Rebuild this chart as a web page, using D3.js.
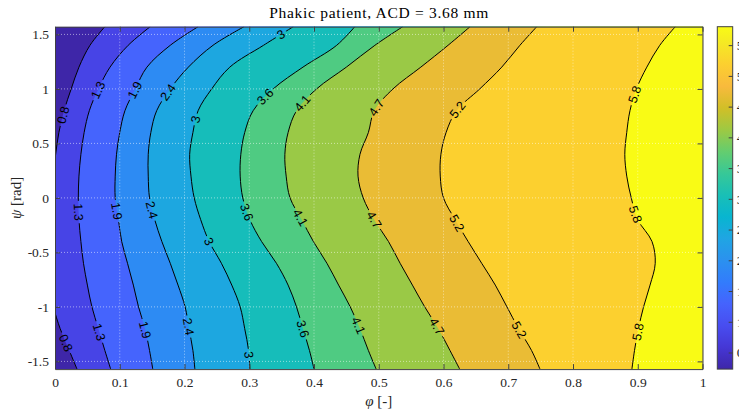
<!DOCTYPE html>
<html>
<head>
<meta charset="utf-8">
<script src="https://cdn.jsdelivr.net/npm/d3@7"></script>
<style>
  body { margin: 0; background: #fff; }
  svg { display: block; }
  .axis text { font-family: "Liberation Serif", serif; font-size: 13.5px; fill: #262626; }
  .axis path, .axis line { stroke: #404040; }
</style>
</head>
<body>
<svg id="chart" width="739" height="412"></svg>
<script>
// tick values
var phiTicks = [0, 0.1, 0.2, 0.3, 0.4, 0.5, 0.6, 0.7, 0.8, 0.9, 1];
var psiTicks = [-1.5, -1, -0.5, 0, 0.5, 1, 1.5];
var cbarTicks = [0.5, 1, 1.5, 2, 2.5, 3, 3.5, 4, 4.5, 5, 5.5];
var cbarRange = [0.23, 5.8];

// contour levels
var levels = [0.8, 1.3, 1.9, 2.4, 3, 3.6, 4.1, 4.7, 5.2, 5.8];

var psiRows = [1.5708, 1.4, 1.2, 1.0, 0.8, 0.6, 0.4, 0.2, 0, -0.2, -0.4, -0.6, -0.8, -1.0, -1.2, -1.4, -1.5708];

// phi of each contour line on those rows
var phi08 = [0.077, 0.054, 0.037, 0.025, 0.014, 0.006, 0.001, -0.003, -0.005, -0.007, -0.008, -0.007, -0.005, -0.002, 0.008, 0.022, 0.034];
var phi13 = [0.147, 0.113, 0.085, 0.067, 0.053, 0.045, 0.040, 0.037, 0.036, 0.037, 0.040, 0.044, 0.050, 0.057, 0.067, 0.077, 0.086];
var phi19 = [0.221, 0.178, 0.142, 0.124, 0.108, 0.100, 0.095, 0.093, 0.093, 0.098, 0.103, 0.112, 0.121, 0.129, 0.139, 0.146, 0.151];
var phi24 = [0.292, 0.244, 0.206, 0.178, 0.157, 0.148, 0.144, 0.144, 0.146, 0.154, 0.165, 0.178, 0.190, 0.201, 0.207, 0.213, 0.216];
var phi30 = [0.368, 0.322, 0.270, 0.242, 0.221, 0.213, 0.208, 0.210, 0.215, 0.225, 0.238, 0.257, 0.273, 0.286, 0.293, 0.299, 0.301];
var phi36 = [0.463, 0.435, 0.383, 0.337, 0.306, 0.293, 0.287, 0.286, 0.290, 0.301, 0.319, 0.342, 0.360, 0.373, 0.383, 0.393, 0.400];
var phi41 = [0.537, 0.494, 0.450, 0.404, 0.373, 0.360, 0.355, 0.357, 0.363, 0.381, 0.399, 0.420, 0.438, 0.456, 0.471, 0.484, 0.496];
var phi47 = [0.641, 0.607, 0.565, 0.522, 0.493, 0.484, 0.471, 0.468, 0.476, 0.493, 0.515, 0.533, 0.552, 0.571, 0.592, 0.610, 0.625];
var phi52 = [0.744, 0.718, 0.690, 0.656, 0.620, 0.604, 0.596, 0.595, 0.600, 0.618, 0.638, 0.659, 0.680, 0.698, 0.716, 0.736, 0.749];
var phi58 = [0.958, 0.934, 0.914, 0.898, 0.888, 0.883, 0.880, 0.883, 0.890, 0.900, 0.922, 0.927, 0.919, 0.909, 0.901, 0.895, 0.891];
var contourPhi = [phi08, phi13, phi19, phi24, phi30, phi36, phi41, phi47, phi52, phi58];

// contour labels: [level, psi]
var labelSpots = [
  [0.8, 0.76], [0.8, -1.33],
  [1.3, 0.99], [1.3, -0.13], [1.3, -1.23],
  [1.9, 0.99], [1.9, -0.12], [1.9, -1.21],
  [2.4, 0.97], [2.4, -0.11], [2.4, -1.18],
  [3, 1.50], [3, 0.72], [3, -0.40], [3, -1.44],
  [3.6, 0.93], [3.6, -0.13], [3.6, -1.20],
  [4.1, 0.87], [4.1, -0.18], [4.1, -1.17],
  [4.7, 0.83], [4.7, -0.20], [4.7, -1.18],
  [5.2, 0.81], [5.2, -0.23], [5.2, -1.21],
  [5.8, 0.95], [5.8, -0.15], [5.8, -1.23]
];

// parula colormap (every 4th entry of the 64 colour table)
var parula = [
  [0.2422, 0.1504, 0.6603], [0.2706, 0.2147, 0.8364], [0.2813, 0.3006, 0.9414], [0.2699, 0.3892, 0.9906],
  [0.1963, 0.4847, 0.9892], [0.1687, 0.5703, 0.9359], [0.1248, 0.6459, 0.8883], [0.0297, 0.7082, 0.8163],
  [0.0964, 0.7500, 0.7120], [0.2161, 0.7843, 0.5923], [0.3909, 0.8029, 0.4354], [0.6174, 0.7876, 0.2612],
  [0.8203, 0.7498, 0.1535], [0.9728, 0.7298, 0.2394], [0.9892, 0.8136, 0.1885], [0.9597, 0.9135, 0.1423],
  [0.9769, 0.9839, 0.0805]
];
var parulaPos = [0, 4, 8, 12, 16, 20, 24, 28, 32, 36, 40, 44, 48, 52, 56, 60, 63].map(function (i) { return i / 63; });
var parulaHex = parula.map(function (c) { return d3.rgb(c[0] * 255, c[1] * 255, c[2] * 255).formatHex(); });
var cmap = d3.scaleLinear().domain(parulaPos).range(parulaHex).interpolate(d3.interpolateRgb);

var svg = d3.select("#chart"),
    margin = { top: 26.7, right: 36.5, bottom: 42.9, left: 55 },
    width = +svg.attr("width") - margin.left - margin.right,
    height = +svg.attr("height") - margin.top - margin.bottom;

var xScale = d3.scaleLinear().domain([0, 1]).range([0, width]),
    yScale = d3.scaleLinear().domain([-Math.PI / 2, Math.PI / 2]).range([height, 0]),
    cScale = d3.scaleLinear().domain(cbarRange).range([0, 1]);

var defs = svg.append("defs");
defs.append("clipPath").attr("id", "plotClip")
    .append("rect").attr("width", width).attr("height", height);

var g = svg.append("g")
    .attr("transform", "translate(" + margin.left + "," + margin.top + ")");

// filled bands
var plot = g.append("g").attr("clip-path", "url(#plotClip)");
var bandLow = [cbarRange[0]].concat(levels);

plot.append("rect")
    .attr("width", width).attr("height", height)
    .attr("fill", cmap(cScale(bandLow[0])));

var lineGen = d3.line()
    .x(function (d) { return xScale(d[0]); })
    .y(function (d) { return yScale(d[1]); })
    .curve(d3.curveCatmullRom.alpha(0.5));

var contours = levels.map(function (lv, i) {
  return { level: lv, pts: contourPhi[i].map(function (p, j) { return [p, psiRows[j]]; }) };
});

plot.selectAll(".band")
    .data(contours)
    .enter().append("path")
    .attr("class", "band")
    .attr("fill", function (d, i) { return cmap(cScale(bandLow[i + 1])); })
    .attr("d", function (d) {
      return lineGen(d.pts) +
        "L" + xScale(1.1) + "," + yScale(-1.7) +
        "L" + xScale(1.1) + "," + yScale(1.7) + "Z";
    });

// contour lines (masked where labels sit)
var mask = defs.append("mask").attr("id", "labelMask")
    .attr("maskUnits", "userSpaceOnUse")
    .attr("x", -10).attr("y", -10).attr("width", width + 20).attr("height", height + 20);
mask.append("rect").attr("x", -10).attr("y", -10)
    .attr("width", width + 20).attr("height", height + 20).attr("fill", "#fff");

var lines = plot.append("g").attr("mask", "url(#labelMask)")
    .selectAll(".cline")
    .data(contours)
    .enter().append("path")
    .attr("class", "cline")
    .attr("fill", "none")
    .attr("stroke", "#000")
    .attr("stroke-width", 1)
    .attr("d", function (d) { return lineGen(d.pts); });

// grid
var grid = plot.append("g")
    .attr("stroke", "#fff").attr("stroke-opacity", 0.65)
    .attr("stroke-width", 0.8).attr("stroke-dasharray", "1,2");
grid.selectAll(".gx").data(phiTicks.slice(1, -1)).enter().append("line")
    .attr("x1", function (d) { return xScale(d); }).attr("x2", function (d) { return xScale(d); })
    .attr("y1", 0).attr("y2", height);
grid.selectAll(".gy").data(psiTicks).enter().append("line")
    .attr("y1", function (d) { return yScale(d); }).attr("y2", function (d) { return yScale(d); })
    .attr("x1", 0).attr("x2", width);

// contour labels, placed on the drawn lines
var lineNodes = {};
lines.each(function (d) { lineNodes[d.level] = this; });

function lengthAtY(node, ty) {
  var lo = 0, hi = node.getTotalLength();
  for (var k = 0; k < 40; k++) {
    var mid = (lo + hi) / 2;
    if (node.getPointAtLength(mid).y < ty) lo = mid; else hi = mid;
  }
  return lo;
}

var labelG = plot.append("g");
labelSpots.forEach(function (s) {
  var node = lineNodes[s[0]];
  var L = lengthAtY(node, yScale(s[1]));
  var p = node.getPointAtLength(L),
      p1 = node.getPointAtLength(Math.max(0, L - 5)),
      p2 = node.getPointAtLength(L + 5);
  var ang = Math.atan2(p2.y - p1.y, p2.x - p1.x) * 180 / Math.PI;
  if (ang > 90) ang -= 180;
  if (ang < -90) ang += 180;
  var t = labelG.append("text")
      .attr("transform", "translate(" + p.x + "," + p.y + ") rotate(" + ang + ")")
      .attr("text-anchor", "middle")
      .attr("dy", "0.36em")
      .attr("font-family", "Liberation Sans, Arial, sans-serif")
      .attr("font-size", "12.5px")
      .attr("fill", "#000")
      .text(String(s[0]));
  var w = t.node().getComputedTextLength() + 5;
  mask.append("rect")
      .attr("transform", "translate(" + p.x + "," + p.y + ") rotate(" + ang + ")")
      .attr("x", -w / 2).attr("y", -5.5).attr("width", w).attr("height", 11)
      .attr("fill", "#000");
});

// axes (ticks point inward, box on)
var fmt = function (d) { return String(d); };
g.append("g").attr("class", "axis")
    .attr("transform", "translate(0," + height + ")")
    .call(d3.axisBottom(xScale).tickValues(phiTicks).tickFormat(fmt).tickSize(-5).tickSizeOuter(0).tickPadding(8));
g.append("g").attr("class", "axis")
    .call(d3.axisTop(xScale).tickValues(phiTicks).tickFormat("").tickSize(-5).tickSizeOuter(0));
g.append("g").attr("class", "axis")
    .call(d3.axisLeft(yScale).tickValues(psiTicks).tickFormat(fmt).tickSize(-5).tickSizeOuter(0).tickPadding(6));
g.append("g").attr("class", "axis")
    .attr("transform", "translate(" + width + ",0)")
    .call(d3.axisRight(yScale).tickValues(psiTicks).tickFormat("").tickSize(-5).tickSizeOuter(0));

// title and axis labels
svg.append("text")
    .attr("x", margin.left + width / 2).attr("y", 18)
    .attr("text-anchor", "middle")
    .attr("font-family", "Liberation Serif, serif").attr("font-size", "15.5px")
    .attr("textLength", 219).attr("lengthAdjust", "spacing")
    .attr("fill", "#000")
    .text("Phakic patient, ACD = 3.68 mm");

var xl = svg.append("text")
    .attr("x", margin.left + width / 2).attr("y", 406)
    .attr("text-anchor", "middle")
    .attr("font-family", "Liberation Serif, serif").attr("font-size", "15px")
    .attr("fill", "#262626");
xl.append("tspan").attr("font-style", "italic").text("φ");
xl.append("tspan").text(" [-]");

var yl = svg.append("text")
    .attr("transform", "translate(21," + (margin.top + height / 2) + ") rotate(-90)")
    .attr("text-anchor", "middle")
    .attr("font-family", "Liberation Serif, serif").attr("font-size", "15px")
    .attr("fill", "#262626");
yl.append("tspan").attr("font-style", "italic").text("ψ");
yl.append("tspan").text(" [rad]");

// colorbar
var cbX = 717.3, cbW = 15.4;
var grad = defs.append("linearGradient").attr("id", "cbarGrad")
    .attr("x1", 0).attr("y1", 1).attr("x2", 0).attr("y2", 0);
grad.selectAll("stop").data(parulaPos).enter().append("stop")
    .attr("offset", function (d) { return d; })
    .attr("stop-color", function (d, i) { return parulaHex[i]; });

var cbY = d3.scaleLinear().domain(cbarRange).range([margin.top + height, margin.top]);
var cb = svg.append("g").attr("transform", "translate(" + cbX + ",0)");
cb.append("rect")
    .attr("y", margin.top).attr("width", cbW).attr("height", height)
    .attr("fill", "url(#cbarGrad)").attr("stroke", "#404040").attr("stroke-width", 1);
cb.append("g").attr("class", "axis")
    .attr("transform", "translate(" + cbW + ",0)")
    .call(d3.axisRight(cbY).tickValues(cbarTicks).tickFormat(fmt).tickSize(-4).tickSizeOuter(0).tickPadding(4))
    .select(".domain").remove();
</script>
</body>
</html>
